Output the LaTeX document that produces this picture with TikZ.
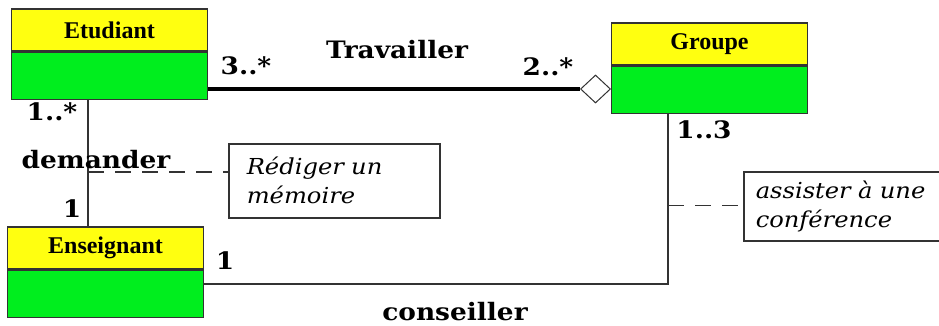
\documentclass[tikz,border=0pt]{standalone}
\usepackage{fontspec}
\usetikzlibrary{shapes.geometric}
\newfontfamily\clsfont{Liberation Serif}
\newfontfamily\labfont{DejaVu Serif}[FakeStretch=1.1]
\newfontfamily\notefont{DejaVu Serif}[FakeStretch=1.1]
\definecolor{umlyellow}{RGB}{255,255,16}
\definecolor{umlgreen}{RGB}{0,238,30}
\definecolor{umlline}{RGB}{51,51,51}
\tikzset{
  clshead/.style={draw=umlline, line width=1.5pt, fill=umlyellow, minimum width=196pt, minimum height=42pt, inner sep=0pt, font=\clsfont\bfseries\fontsize{24}{26}\selectfont},
  clsbody/.style={draw=umlline, line width=1.5pt, fill=umlgreen, minimum width=196pt, minimum height=47pt, inner sep=0pt, anchor=north},
  assoc/.style={draw=umlline, line width=1.5pt},
  notebox/.style={draw=umlline, line width=1.5pt, anchor=north west, align=left, inner ysep=0pt, font=\notefont\itshape\fontsize{22}{29}\selectfont},
  lab/.style={inner sep=0pt, font=\labfont\bfseries\fontsize{24}{26}\selectfont}
}
\begin{document}
\begin{tikzpicture}[x=1pt,y=-1pt]
\useasboundingbox (0,0) rectangle (939,326);
\node[clshead] (etu) at (109.5,30) {Etudiant};
\node[clsbody] (etuB) at (etu.south) {};
\node[clshead] (grp) at (709.5,44) {Groupe};
\node[clsbody] (grpB) at (grp.south) {};
\node[clshead] (ens) at (105.5,248) {Enseignant};
\node[clsbody] (ensB) at (ens.south) {};
\node[notebox, minimum width=211pt, minimum height=74pt, text width=175pt, inner xsep=18pt] (redig) at (228,143) {Rédiger un\\mémoire};
\node[notebox, minimum width=210pt, minimum height=69pt, text width=186pt, inner xsep=12pt] (assist) at (743,171) {assister à une\\conférence};
\node[diamond, draw=umlline, line width=1pt, fill=white, inner sep=0pt, minimum width=30pt, minimum height=28pt] (agg) at (595.5,89) {};
% associations
\draw[assoc, line width=4pt, draw=black] (agg.west -| etuB.east) -- (agg.west);
\coordinate (dm) at (88,172);
\draw[assoc] (dm |- etuB.south) -- (dm |- ens.north);
\draw[assoc, dashed, dash pattern=on 16pt off 11pt] (dm) -- (dm -| redig.west);
\coordinate (cs) at (668,284);
\draw[assoc] (cs |- grpB.south) -- (cs) -- (cs -| ensB.east);
\coordinate (cn) at (668,205.5);
\draw[assoc, dashed, dash pattern=on 16pt off 11pt] (cn) -- (cn -| assist.west);
% labels
\node[lab] (trav) at (397,50) {Travailler};
\node[lab] (m1) at (246,66) {3..*};
\node[lab] (m2) at (548,67) {2..*};
\node[lab] (m3) at (52,112) {1..*};
\node[lab] (dem) at (96,160) {demander};
\node[lab] (m4) at (72,209) {1};
\node[lab] (m5) at (225,261) {1};
\node[lab] (m6) at (704,130) {1..3};
\node[lab] (cons) at (455,312) {conseiller};
\end{tikzpicture}
\end{document}
